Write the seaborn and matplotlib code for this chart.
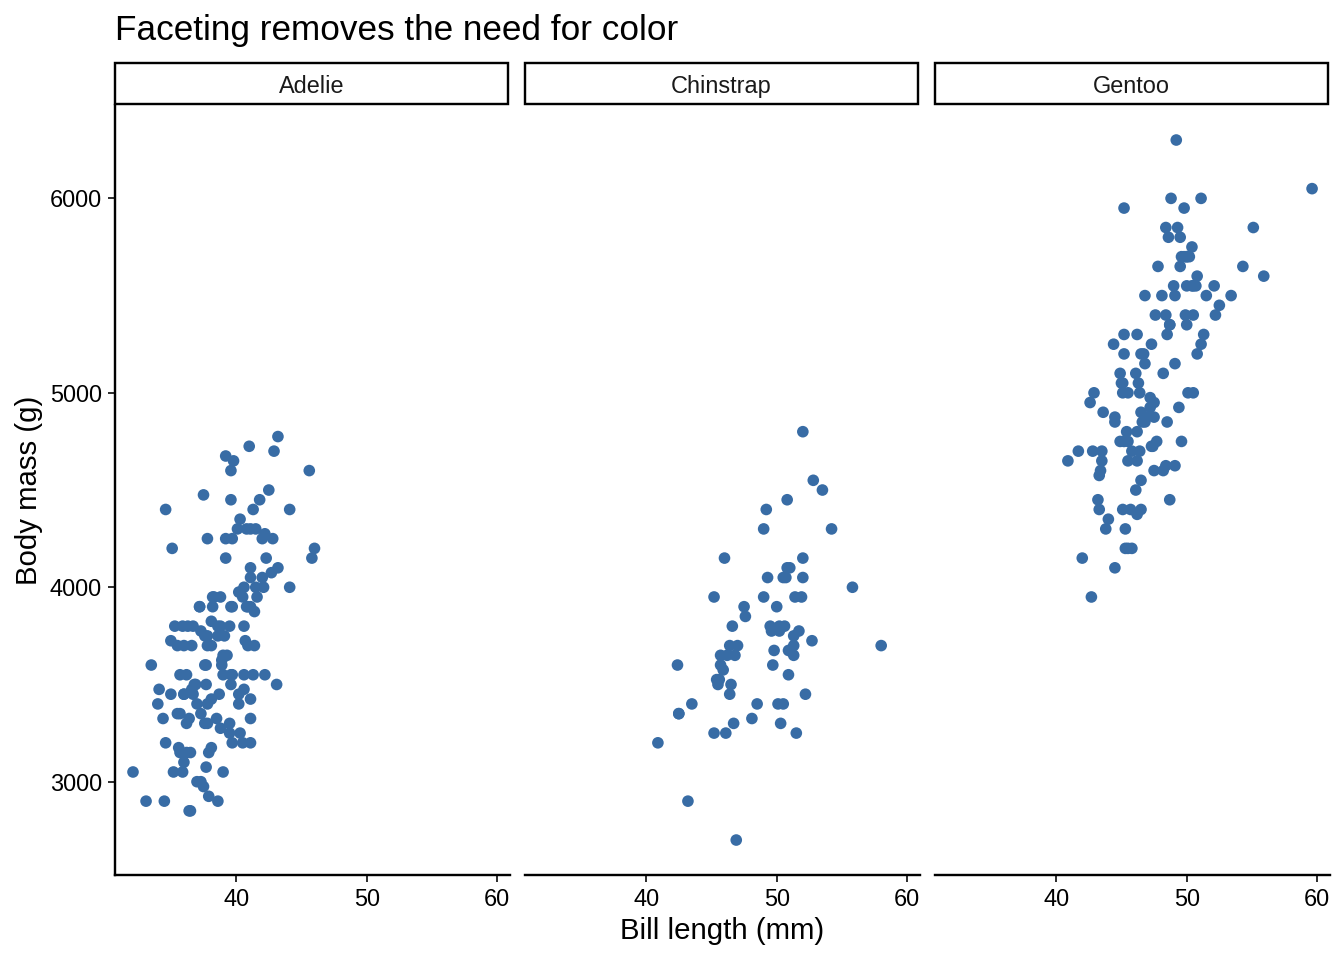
import matplotlib
matplotlib.use("Agg")
import matplotlib.pyplot as plt
from matplotlib.patches import Rectangle
import seaborn as sns
import pandas as pd

# ---- data (bill length mm, body mass g) ----
adelie_bill = [39.1, 39.5, 40.3, 36.7, 39.3, 38.9, 39.2, 34.1, 42.0, 37.8, 37.8, 41.1, 38.6, 34.6, 36.6,
               38.7, 42.5, 34.4, 46.0, 37.8, 37.7, 35.9, 38.2, 38.8, 35.3, 40.6, 40.5, 37.9, 40.5, 39.5,
               37.2, 39.5, 40.9, 36.4, 39.2, 38.8, 42.2, 37.6, 39.8, 36.5, 40.8, 36.0, 44.1, 37.0, 39.6,
               41.1, 37.5, 36.0, 42.3, 39.6, 40.1, 35.0, 42.0, 34.5, 41.4, 39.0, 40.6, 36.5, 37.6, 35.7,
               41.3, 37.6, 41.1, 36.4, 41.6, 35.5, 41.1, 35.9, 41.8, 33.5, 39.7, 39.6, 45.8, 35.5, 42.8,
               40.9, 37.2, 36.2, 42.1, 34.6, 42.9, 36.7, 35.1, 37.3, 41.3, 36.3, 36.9, 38.3, 38.9, 35.7,
               41.1, 34.0, 39.6, 36.2, 40.8, 38.1, 40.3, 33.1, 43.2, 35.0, 41.0, 37.7, 37.8, 37.9, 39.7,
               38.6, 38.2, 38.1, 43.2, 38.1, 45.6, 39.7, 42.2, 39.6, 42.7, 38.6, 37.3, 35.7, 41.1, 36.2,
               37.7, 40.2, 41.4, 35.2, 40.6, 38.8, 41.5, 39.0, 44.1, 38.5, 43.1, 36.8, 37.5, 38.1, 41.1,
               35.6, 40.2, 37.0, 39.7, 40.2, 40.6, 32.1, 40.7, 37.3, 39.0, 39.2, 36.6, 36.0, 37.8, 36.0,
               41.5]
adelie_mass = [3750, 3800, 3250, 3450, 3650, 3625, 4675, 3475, 4250, 3300, 3700, 3200, 3800, 4400, 3700,
               3450, 4500, 3325, 4200, 3400, 3600, 3800, 3950, 3800, 3800, 3550, 3200, 3150, 3950, 3250,
               3900, 3300, 3900, 3325, 4150, 3950, 3550, 3300, 4650, 3150, 3900, 3100, 4400, 3000, 4600,
               3425, 2975, 3450, 4150, 3500, 4300, 3450, 4050, 2900, 3700, 3550, 3800, 2850, 3750, 3150,
               4400, 3600, 4050, 2850, 3950, 3350, 4100, 3050, 4450, 3600, 3900, 3550, 4150, 3700, 4250,
               3700, 3900, 3550, 4000, 3200, 4700, 3800, 4200, 3350, 3550, 3800, 3500, 3950, 3600, 3550,
               4300, 3400, 4450, 3300, 4300, 3700, 4350, 2900, 4100, 3725, 4725, 3075, 4250, 2925, 3550,
               3750, 3900, 3175, 4775, 3825, 4600, 3200, 4275, 3900, 4075, 2900, 3775, 3350, 3325, 3150,
               3500, 3450, 3875, 3050, 4000, 3275, 4300, 3050, 4000, 3325, 3500, 3500, 4475, 3425, 3900,
               3175, 3975, 3400, 4250, 3400, 3475, 3050, 3725, 3000, 3650, 4250, 3475, 3450, 3750, 3700,
               4000]

chinstrap_bill = [46.5, 50.0, 51.3, 45.4, 52.7, 45.2, 46.1, 51.3, 46.0, 51.3, 46.6, 51.7, 47.0, 52.0, 45.9,
                  50.5, 50.3, 58.0, 46.4, 49.2, 42.4, 48.5, 43.2, 50.6, 46.7, 52.0, 50.5, 49.5, 46.4, 52.8,
                  40.9, 54.2, 42.5, 51.0, 49.7, 47.5, 47.6, 52.0, 46.9, 53.5, 49.0, 46.2, 50.9, 45.5, 50.9,
                  50.8, 50.1, 49.0, 51.5, 49.8, 48.1, 51.4, 45.7, 50.7, 42.5, 52.2, 45.2, 49.3, 50.2, 45.6,
                  51.9, 46.8, 45.7, 55.8, 43.5, 49.6, 50.8, 50.2]
chinstrap_mass = [3500, 3900, 3650, 3525, 3725, 3950, 3250, 3750, 4150, 3700, 3800, 3775, 3700, 4050, 3575,
                  4050, 3300, 3700, 3450, 4400, 3600, 3400, 2900, 3800, 3300, 4150, 3400, 3800, 3700, 4550,
                  3200, 4300, 3350, 4100, 3600, 3900, 3850, 4800, 2700, 4500, 3950, 3650, 3550, 3500, 3675,
                  4450, 3400, 4300, 3250, 3675, 3325, 3950, 3600, 4050, 3350, 3450, 3250, 4050, 3800, 3525,
                  3950, 3650, 3650, 4000, 3400, 3775, 4100, 3775]

gentoo_bill = [46.1, 50.0, 48.7, 50.0, 47.6, 46.5, 45.4, 46.7, 43.3, 46.8, 40.9, 49.0, 45.5, 48.4, 45.8,
               49.3, 42.0, 49.2, 46.2, 48.7, 50.2, 45.1, 46.5, 46.3, 42.9, 46.1, 44.5, 47.8, 48.2, 50.0,
               47.3, 42.8, 45.1, 59.6, 49.1, 48.4, 42.6, 44.4, 44.0, 48.7, 42.7, 49.6, 45.3, 49.6, 50.5,
               43.6, 45.5, 50.5, 44.9, 45.2, 46.6, 48.5, 45.1, 50.1, 46.5, 45.0, 43.8, 45.5, 43.2, 50.4,
               45.3, 46.2, 45.7, 54.3, 45.8, 49.8, 46.2, 49.5, 43.5, 50.7, 47.7, 46.4, 48.2, 46.5, 46.4,
               48.6, 47.5, 51.1, 45.2, 45.2, 49.1, 52.5, 47.4, 50.0, 44.9, 50.8, 43.4, 51.3, 47.5, 52.1,
               47.5, 52.2, 45.5, 49.5, 44.5, 50.8, 49.4, 46.9, 48.4, 51.1, 48.5, 55.9, 47.2, 49.1, 47.3,
               46.8, 41.7, 53.4, 43.3, 48.1, 50.5, 49.8, 43.5, 51.5, 46.2, 55.1, 44.5, 48.8, 47.2, 46.8,
               50.4, 45.2, 49.9]
gentoo_mass = [4500, 5700, 4450, 5700, 5400, 4550, 4800, 5200, 4400, 5150, 4650, 5550, 4650, 5850, 4200,
               5850, 4150, 6300, 4800, 5350, 5700, 5000, 4400, 5050, 5000, 5100, 4100, 5650, 4600, 5550,
               5250, 4700, 5050, 6050, 5150, 5400, 4950, 5250, 4350, 5350, 3950, 5700, 4300, 4750, 5550,
               4900, 4200, 5400, 5100, 5300, 4850, 5300, 4400, 5000, 4900, 5050, 4300, 5000, 4450, 5550,
               4200, 5300, 4400, 5650, 4700, 5700, 4650, 5800, 4700, 5550, 4750, 5000, 5100, 5200, 4700,
               5800, 4600, 6000, 4750, 5950, 4625, 5450, 4725, 5350, 4750, 5600, 4600, 5300, 4875, 5550,
               4950, 5400, 4750, 5650, 4850, 5200, 4925, 4875, 4625, 5250, 4850, 5600, 4975, 5500, 4725,
               5500, 4700, 5500, 4575, 5500, 5000, 5950, 4650, 5500, 4375, 5850, 4875, 6000, 4925, 4850,
               5750, 5200, 5400]

species = ["Adelie", "Chinstrap", "Gentoo"]
title = "Faceting removes the need for color"
x_label = "Bill length (mm)"
y_label = "Body mass (g)"
x_ticks = [40, 50, 60]
y_ticks = [3000, 4000, 5000, 6000]

df = pd.concat([
    pd.DataFrame({"species": "Adelie", "bill": adelie_bill, "mass": adelie_mass}),
    pd.DataFrame({"species": "Chinstrap", "bill": chinstrap_bill, "mass": chinstrap_mass}),
    pd.DataFrame({"species": "Gentoo", "bill": gentoo_bill, "mass": gentoo_mass}),
], ignore_index=True)

sns.set_style("white")
plt.rcParams["font.family"] = ["Liberation Sans", "DejaVu Sans"]

POINT = "#386CA5"

g = sns.FacetGrid(df, col="species", col_order=species, sharex=True, sharey=True,
                  height=5, aspect=0.4667, despine=False)
g.map_dataframe(sns.scatterplot, x="bill", y="mass", color=POINT, s=19,
                edgecolor="none", linewidth=0)
fig = g.figure
fig.set_size_inches(7, 5)
fig.subplots_adjust(left=0.0856, right=0.9896, top=0.8906, bottom=0.0885, wspace=0.038)

xmin, xmax = min(min(adelie_bill), min(chinstrap_bill), min(gentoo_bill)), max(max(adelie_bill), max(chinstrap_bill), max(gentoo_bill))
ymin, ymax = min(min(adelie_mass), min(chinstrap_mass), min(gentoo_mass)), max(max(adelie_mass), max(chinstrap_mass), max(gentoo_mass))
xe = (xmax - xmin) * 0.05
ye = (ymax - ymin) * 0.05

for i, (ax, sp) in enumerate(zip(g.axes.flat, species)):
    ax.set_title("")
    ax.set_xlim(xmin - xe, xmax + xe)
    ax.set_ylim(ymin - ye, ymax + ye)
    ax.set_xticks(x_ticks)
    ax.set_yticks(y_ticks)
    ax.set_xticklabels([str(t) for t in x_ticks])
    ax.grid(False)
    for s in ["top", "right"]:
        ax.spines[s].set_visible(False)
    ax.spines["bottom"].set_linewidth(0.9)
    ax.spines["bottom"].set_color("black")
    ax.tick_params(axis="x", direction="out", length=2.75, width=0.6, color="black",
                   pad=2.2, labelsize=8.8, labelcolor="black", bottom=True)
    if i == 0:
        ax.spines["left"].set_linewidth(0.9)
        ax.spines["left"].set_color("black")
        ax.tick_params(axis="y", direction="out", length=2.75, width=0.6, color="black",
                       pad=2.2, labelsize=8.8, labelcolor="black", left=True, labelleft=True)
        ax.set_yticklabels([str(t) for t in y_ticks])
    else:
        ax.spines["left"].set_visible(False)
        ax.tick_params(axis="y", left=False, labelleft=False)
    ax.set_xlabel("")
    ax.set_ylabel("")
    # strip
    rect = Rectangle((0.0, 1.0015), 0.995, 0.0535, transform=ax.transAxes, clip_on=False,
                     facecolor="white", edgecolor="black", linewidth=0.9)
    ax.add_patch(rect)
    ax.text(0.4975, 1.0275, sp, transform=ax.transAxes, ha="center", va="center_baseline",
            fontsize=8.8, color="#1A1A1A")

fig.text(0.0856, 0.968, title, ha="left", va="center", fontsize=13.2, color="black")
fig.text(0.5373, 0.030, x_label, ha="center", va="center", fontsize=11, color="black")
fig.text(0.0215, 0.4896, y_label, ha="center", va="center", rotation=90, fontsize=11, color="black")

fig.savefig("out.png", dpi=192, facecolor="white")
